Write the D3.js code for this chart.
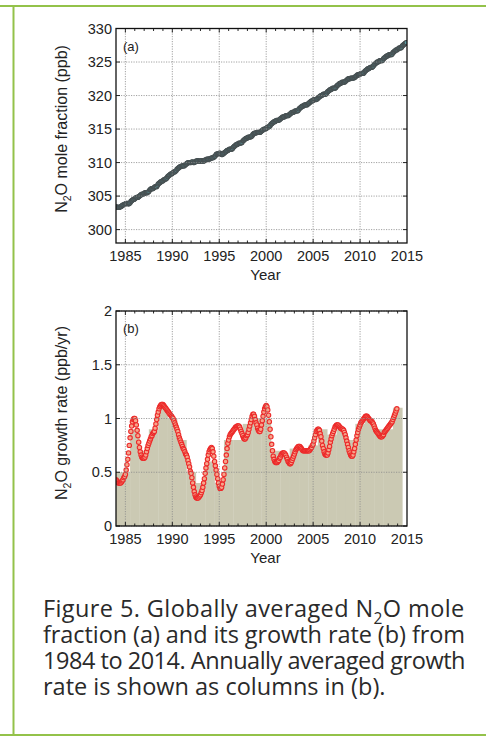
<!DOCTYPE html>
<html>
<head>
<meta charset="utf-8">
<script src="https://cdn.jsdelivr.net/npm/d3@7/dist/d3.min.js"></script>
<style>
  body { margin: 0; background: #fff; }
  svg { display: block; font-family: "Liberation Sans", Arial, sans-serif; }
</style>
</head>
<body>
<svg id="chart" width="486" height="742"></svg>
<script>
// first month of both monthly series
var firstYear = 1984;

// (a) global N2O mole fraction, ppb, monthly, one row per year 1984..2014
var moleFraction = [
  [303.4, 303.4, 303.3, 303.3, 303.3, 303.4, 303.4, 303.5, 303.6, 303.7, 303.7, 303.8],
  [303.8, 303.9, 303.9, 303.9, 303.8, 303.9, 304.0, 304.2, 304.3, 304.4, 304.5, 304.5],
  [304.6, 304.7, 304.8, 304.8, 304.8, 304.9, 305.0, 305.1, 305.2, 305.3, 305.3, 305.3],
  [305.4, 305.5, 305.5, 305.5, 305.5, 305.6, 305.7, 305.9, 306.0, 306.1, 306.1, 306.1],
  [306.2, 306.3, 306.4, 306.4, 306.4, 306.6, 306.8, 306.9, 307.0, 307.1, 307.2, 307.2],
  [307.3, 307.4, 307.5, 307.5, 307.6, 307.7, 307.9, 308.0, 308.1, 308.2, 308.3, 308.3],
  [308.4, 308.5, 308.6, 308.6, 308.7, 308.8, 309.0, 309.1, 309.2, 309.3, 309.4, 309.4],
  [309.5, 309.5, 309.5, 309.5, 309.6, 309.7, 309.8, 309.9, 310.0, 310.0, 310.0, 310.0],
  [310.0, 310.1, 310.1, 310.0, 310.0, 310.1, 310.2, 310.2, 310.3, 310.3, 310.2, 310.2],
  [310.2, 310.3, 310.3, 310.2, 310.2, 310.3, 310.4, 310.4, 310.5, 310.5, 310.5, 310.5],
  [310.6, 310.6, 310.7, 310.7, 310.7, 310.8, 310.9, 311.0, 311.2, 311.3, 311.3, 311.3],
  [311.4, 311.4, 311.3, 311.2, 311.2, 311.3, 311.4, 311.5, 311.6, 311.7, 311.8, 311.8],
  [311.9, 312.0, 312.0, 312.0, 312.0, 312.1, 312.3, 312.4, 312.5, 312.6, 312.7, 312.7],
  [312.8, 312.9, 312.9, 312.9, 312.9, 313.0, 313.2, 313.3, 313.4, 313.5, 313.6, 313.6],
  [313.7, 313.8, 313.8, 313.8, 313.8, 313.9, 314.0, 314.2, 314.3, 314.4, 314.4, 314.4],
  [314.5, 314.5, 314.5, 314.5, 314.5, 314.6, 314.7, 314.8, 314.9, 315.0, 315.0, 315.0],
  [315.1, 315.2, 315.3, 315.3, 315.4, 315.5, 315.7, 315.8, 315.9, 316.0, 316.1, 316.1],
  [316.2, 316.3, 316.3, 316.3, 316.3, 316.4, 316.5, 316.6, 316.7, 316.8, 316.8, 316.8],
  [316.9, 317.0, 317.0, 317.0, 317.0, 317.1, 317.2, 317.3, 317.4, 317.5, 317.5, 317.5],
  [317.6, 317.7, 317.7, 317.7, 317.7, 317.8, 318.0, 318.1, 318.2, 318.3, 318.4, 318.4],
  [318.5, 318.6, 318.6, 318.6, 318.6, 318.7, 318.8, 318.9, 319.0, 319.1, 319.2, 319.2],
  [319.3, 319.4, 319.4, 319.4, 319.4, 319.5, 319.6, 319.7, 319.8, 319.9, 320.0, 320.0],
  [320.1, 320.2, 320.2, 320.2, 320.2, 320.3, 320.5, 320.6, 320.7, 320.8, 320.9, 320.9],
  [321.0, 321.1, 321.1, 321.1, 321.1, 321.2, 321.4, 321.5, 321.6, 321.7, 321.8, 321.8],
  [321.9, 322.0, 322.0, 322.0, 322.0, 322.1, 322.2, 322.3, 322.4, 322.5, 322.5, 322.5],
  [322.6, 322.6, 322.6, 322.6, 322.6, 322.7, 322.8, 322.9, 323.0, 323.1, 323.1, 323.1],
  [323.2, 323.3, 323.3, 323.3, 323.3, 323.4, 323.6, 323.7, 323.8, 323.9, 324.0, 324.0],
  [324.1, 324.2, 324.2, 324.2, 324.3, 324.4, 324.6, 324.7, 324.8, 324.9, 325.0, 325.0],
  [325.1, 325.2, 325.2, 325.2, 325.2, 325.3, 325.5, 325.6, 325.7, 325.8, 325.9, 325.9],
  [326.0, 326.1, 326.1, 326.1, 326.1, 326.2, 326.4, 326.5, 326.6, 326.7, 326.8, 326.8],
  [326.9, 327.0, 327.1, 327.1, 327.1, 327.2, 327.4, 327.5, 327.6, 327.7, 327.8, 327.9]
];

// (b) growth rate, ppb/yr, monthly, one row per year 1984..2013
var growthRate = [
  [0.43, 0.42, 0.41, 0.40, 0.40, 0.40, 0.40, 0.41, 0.42, 0.43, 0.45, 0.46],
  [0.48, 0.52, 0.57, 0.62, 0.68, 0.75, 0.82, 0.88, 0.93, 0.97, 0.99, 1.00],
  [1.00, 0.98, 0.94, 0.89, 0.84, 0.78, 0.73, 0.69, 0.66, 0.64, 0.63, 0.63],
  [0.63, 0.64, 0.66, 0.69, 0.72, 0.75, 0.77, 0.79, 0.81, 0.83, 0.84, 0.86],
  [0.87, 0.88, 0.91, 0.95, 0.99, 1.03, 1.06, 1.09, 1.11, 1.12, 1.13, 1.13],
  [1.13, 1.12, 1.11, 1.10, 1.09, 1.08, 1.07, 1.06, 1.05, 1.04, 1.03, 1.02],
  [1.01, 1.00, 0.98, 0.96, 0.94, 0.92, 0.90, 0.88, 0.85, 0.82, 0.80, 0.78],
  [0.76, 0.74, 0.72, 0.71, 0.69, 0.67, 0.66, 0.64, 0.61, 0.58, 0.55, 0.51],
  [0.49, 0.45, 0.40, 0.36, 0.32, 0.29, 0.27, 0.26, 0.26, 0.26, 0.27, 0.28],
  [0.29, 0.31, 0.33, 0.36, 0.40, 0.44, 0.49, 0.54, 0.58, 0.62, 0.66, 0.69],
  [0.71, 0.72, 0.73, 0.72, 0.69, 0.65, 0.60, 0.56, 0.52, 0.48, 0.44, 0.40],
  [0.37, 0.35, 0.35, 0.36, 0.39, 0.43, 0.48, 0.54, 0.60, 0.66, 0.72, 0.77],
  [0.80, 0.83, 0.85, 0.86, 0.87, 0.88, 0.89, 0.90, 0.91, 0.92, 0.92, 0.93],
  [0.93, 0.93, 0.92, 0.90, 0.88, 0.86, 0.84, 0.82, 0.81, 0.81, 0.82, 0.84],
  [0.85, 0.87, 0.90, 0.93, 0.96, 0.99, 1.02, 1.04, 1.04, 1.02, 0.99, 0.96],
  [0.94, 0.91, 0.89, 0.88, 0.88, 0.90, 0.94, 0.98, 1.02, 1.06, 1.09, 1.11],
  [1.12, 1.11, 1.08, 1.03, 0.97, 0.90, 0.83, 0.76, 0.70, 0.65, 0.62, 0.60],
  [0.59, 0.59, 0.59, 0.60, 0.61, 0.63, 0.64, 0.66, 0.67, 0.68, 0.68, 0.68],
  [0.67, 0.66, 0.64, 0.62, 0.60, 0.59, 0.58, 0.58, 0.59, 0.61, 0.63, 0.65],
  [0.67, 0.69, 0.71, 0.72, 0.73, 0.74, 0.74, 0.74, 0.73, 0.72, 0.71, 0.70],
  [0.70, 0.70, 0.70, 0.70, 0.70, 0.70, 0.70, 0.70, 0.71, 0.72, 0.73, 0.75],
  [0.76, 0.79, 0.82, 0.85, 0.88, 0.89, 0.90, 0.90, 0.89, 0.86, 0.83, 0.79],
  [0.75, 0.72, 0.69, 0.67, 0.66, 0.66, 0.66, 0.68, 0.71, 0.74, 0.78, 0.81],
  [0.84, 0.86, 0.88, 0.90, 0.92, 0.93, 0.94, 0.94, 0.94, 0.93, 0.92, 0.91],
  [0.91, 0.90, 0.90, 0.89, 0.87, 0.85, 0.82, 0.79, 0.76, 0.73, 0.70, 0.68],
  [0.66, 0.65, 0.65, 0.66, 0.69, 0.72, 0.76, 0.80, 0.84, 0.87, 0.90, 0.92],
  [0.94, 0.96, 0.97, 0.98, 0.99, 1.00, 1.01, 1.02, 1.02, 1.02, 1.01, 1.00],
  [0.99, 0.98, 0.98, 0.97, 0.96, 0.95, 0.93, 0.91, 0.89, 0.88, 0.87, 0.86],
  [0.85, 0.84, 0.83, 0.83, 0.83, 0.84, 0.85, 0.87, 0.88, 0.89, 0.90, 0.91],
  [0.92, 0.93, 0.94, 0.95, 0.96, 0.97, 0.99, 1.01, 1.03, 1.05, 1.07, 1.09]
];

// (b) annually averaged growth rate, drawn as columns centred on the year
var barYears = [1984, 1985, 1986, 1987, 1988, 1989, 1990, 1991, 1992, 1993, 1994,
  1995, 1996, 1997, 1998, 1999, 2000, 2001, 2002, 2003, 2004, 2005, 2006, 2007,
  2008, 2009, 2010, 2011, 2012, 2013, 2014];
var annualGrowth = [0.5, 0.5, 0.9, 0.7, 0.9, 1.1, 1.0, 0.8, 0.5, 0.4, 0.6,
  0.4, 0.8, 0.8, 0.95, 1.0, 1.0, 0.7, 0.65, 0.72, 0.7, 0.75, 0.9, 0.85,
  0.9, 0.8, 0.95, 1.0, 0.9, 0.9, 1.1];

var xTicks = [1985, 1990, 1995, 2000, 2005, 2010, 2015];
var yTicksA = [300, 305, 310, 315, 320, 325, 330];
var yTicksB = [0, 0.5, 1, 1.5, 2];
var yTickLabelsB = ["0", "0.5", "1", "1.5", "2"];

var captionLines = [
  "Figure 5. Globally averaged N_2O mole",
  "fraction (a) and its growth rate (b) from",
  "1984 to 2014. Annually averaged growth",
  "rate is shown as columns in (b)."
];

var svg = d3.select("#chart");
var green = "#93c24a";

// flatten monthly rows into {t, v}
function monthly(rows) {
  var out = [];
  rows.forEach(function(row, i) {
    row.forEach(function(v, m) {
      out.push({ t: firstYear + i + m / 12, v: v });
    });
  });
  return out;
}

// write text with "_2" as a subscript 2
function subText(sel, str, size) {
  var parts = str.split("_2");
  parts.forEach(function(p, i) {
    if (i > 0) {
      sel.append("tspan").attr("dy", size * 0.28).attr("font-size", size * 0.66).text("2");
      sel.append("tspan").attr("dy", -size * 0.28).text(p);
    } else {
      sel.append("tspan").text(p);
    }
  });
}

// page frame
svg.append("line").attr("x1", 0).attr("x2", 486).attr("y1", 6).attr("y2", 6)
  .attr("stroke", green).attr("stroke-width", 2);
svg.append("line").attr("x1", 0).attr("x2", 486).attr("y1", 735).attr("y2", 735)
  .attr("stroke", green).attr("stroke-width", 2);
svg.append("line").attr("x1", 13.5).attr("x2", 13.5).attr("y1", 6).attr("y2", 735)
  .attr("stroke", green).attr("stroke-width", 2);

function drawPanel(opt) {
  var x = d3.scaleLinear().domain([1984, 2015]).range([opt.left, opt.right]);
  var y = d3.scaleLinear().domain(opt.yDomain).range([opt.bottom, opt.top]);
  var g = svg.append("g");

  var clipId = "clip" + opt.name;
  svg.append("clipPath").attr("id", clipId).append("rect")
    .attr("x", opt.left).attr("y", opt.top)
    .attr("width", opt.right - opt.left).attr("height", opt.bottom - opt.top);

  var plot = g.append("g").attr("clip-path", "url(#" + clipId + ")");

  if (opt.bars) {
    plot.selectAll("rect.bar").data(opt.bars).enter().append("rect")
      .attr("class", "bar")
      .attr("x", function(d) { return x(d.year - 0.5); })
      .attr("width", function(d) { return x(d.year + 0.5) - x(d.year - 0.5) + 0.3; })
      .attr("y", function(d) { return y(d.v); })
      .attr("height", function(d) { return y(0) - y(d.v); })
      .attr("fill", "#cbc9b3");
  }

  // dotted grid
  var grid = g.append("g").attr("stroke", "#8a8a8a").attr("stroke-width", 0.8)
    .attr("stroke-dasharray", "1.2,1.3");
  grid.selectAll("line.gx").data(xTicks.slice(0, -1)).enter().append("line")
    .attr("x1", function(d) { return x(d); }).attr("x2", function(d) { return x(d); })
    .attr("y1", opt.top).attr("y2", opt.bottom);
  grid.selectAll("line.gy").data(opt.yTicks).enter().append("line")
    .attr("x1", opt.left).attr("x2", opt.right)
    .attr("y1", function(d) { return y(d); }).attr("y2", function(d) { return y(d); });

  // monthly points
  plot.selectAll("circle").data(opt.points).enter().append("circle")
    .attr("cx", function(d) { return x(d.t); })
    .attr("cy", function(d) { return y(d.v); })
    .attr("r", opt.r)
    .attr("fill", opt.fill)
    .attr("stroke", opt.stroke)
    .attr("stroke-width", opt.sw);

  // minor year ticks, top and bottom
  var years = d3.range(1985, 2015);
  var ticks = g.append("g").attr("stroke", "#111").attr("stroke-width", 0.9);
  years.forEach(function(yr) {
    var len = yr % 5 === 0 ? 4 : 2.5;
    ticks.append("line").attr("x1", x(yr)).attr("x2", x(yr))
      .attr("y1", opt.bottom).attr("y2", opt.bottom - len);
    ticks.append("line").attr("x1", x(yr)).attr("x2", x(yr))
      .attr("y1", opt.top).attr("y2", opt.top + len);
  });
  opt.yTicks.forEach(function(v) {
    ticks.append("line").attr("x1", opt.left).attr("x2", opt.left + 4)
      .attr("y1", y(v)).attr("y2", y(v));
    ticks.append("line").attr("x1", opt.right).attr("x2", opt.right - 4)
      .attr("y1", y(v)).attr("y2", y(v));
  });

  // frame
  g.append("rect").attr("x", opt.left).attr("y", opt.top)
    .attr("width", opt.right - opt.left).attr("height", opt.bottom - opt.top)
    .attr("fill", "none").attr("stroke", "#111").attr("stroke-width", 1.3);

  // x axis labels
  g.selectAll("text.xt").data(xTicks).enter().append("text")
    .attr("x", function(d) { return x(d); })
    .attr("y", opt.bottom + 18)
    .attr("text-anchor", "middle").attr("font-size", 14.5).attr("fill", "#222")
    .text(function(d) { return d; });
  g.append("text").attr("x", (opt.left + opt.right) / 2 + 4).attr("y", opt.bottom + 37)
    .attr("text-anchor", "middle").attr("font-size", 15).attr("fill", "#222").text("Year");

  // y axis labels
  g.selectAll("text.yt").data(opt.yTicks).enter().append("text")
    .attr("x", opt.left - 4)
    .attr("y", function(d) { return y(d) + 5; })
    .attr("text-anchor", "end").attr("font-size", 14.5).attr("fill", "#222")
    .text(function(d, i) { return opt.yLabels ? opt.yLabels[i] : d; });

  var yl = g.append("text")
    .attr("transform", "translate(" + 67 + "," + opt.labelY + ") rotate(-90)")
    .attr("text-anchor", "middle").attr("font-size", 16).attr("fill", "#222");
  subText(yl, opt.yTitle, 16);

  g.append("text").attr("x", opt.left + 7).attr("y", opt.top + 22)
    .attr("font-size", 13).attr("fill", "#222").text("(" + opt.name + ")");
}

drawPanel({
  name: "a", left: 116, right: 407, top: 28.5, bottom: 243,
  yDomain: [298, 330], yTicks: yTicksA,
  points: monthly(moleFraction),
  r: 2.1, fill: "#5d9ea6", stroke: "#475052", sw: 1.1,
  yTitle: "N_2O mole fraction (ppb)", labelY: 129
});

drawPanel({
  name: "b", left: 116, right: 407, top: 311, bottom: 526,
  yDomain: [0, 2], yTicks: yTicksB, yLabels: yTickLabelsB,
  bars: barYears.map(function(yr, i) { return { year: yr, v: annualGrowth[i] }; }),
  points: monthly(growthRate),
  r: 2.2, fill: "#f6a58c", stroke: "#ec2a2a", sw: 1.1,
  yTitle: "N_2O growth rate (ppb/yr)", labelY: 413
});

// caption; the three full lines are fitted to the text column with letter-spacing
var capSize = 23.5;
var fullWidth = 422;
var baselines = [617, 643, 669, 695];
var cap = svg.append("g").attr("font-family", "'Open Sans', 'Liberation Sans', sans-serif")
  .attr("fill", "#2a2a2a");
captionLines.forEach(function(line, i) {
  var t = cap.append("text").attr("x", 43).attr("y", baselines[i])
    .attr("font-size", capSize);
  subText(t, line, capSize);
  var w = t.node().getComputedTextLength();
  if (i < 3 || w > fullWidth) {
    t.attr("letter-spacing", (fullWidth - w) / line.length);
  }
});
</script>
</body>
</html>
